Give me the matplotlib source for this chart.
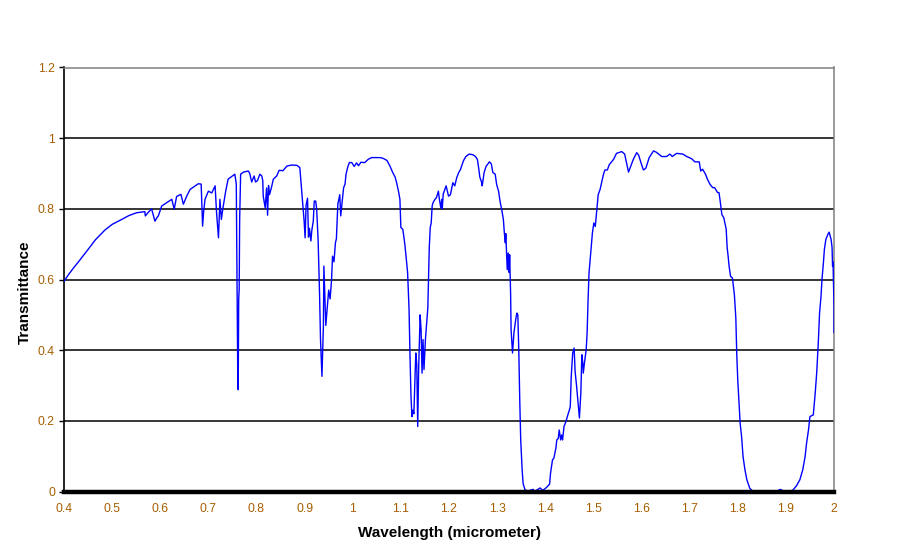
import matplotlib
matplotlib.use("Agg")
import matplotlib.pyplot as plt
from matplotlib.ticker import FixedLocator

wavelength = [
    0.400, 0.410, 0.420, 0.430, 0.450, 0.465, 0.485, 0.500, 0.520, 0.535,
    0.551, 0.568, 0.569, 0.575, 0.582,
    0.589, 0.593, 0.596, 0.603, 0.624, 0.629, 0.634, 0.643, 0.648, 0.655,
    0.662, 0.679, 0.685, 0.688, 0.690, 0.693, 0.700, 0.707, 0.714, 0.717,
    0.721, 0.724, 0.727, 0.730, 0.736, 0.741, 0.755, 0.758, 0.761, 0.762,
    0.763, 0.764, 0.765, 0.767, 0.773, 0.783, 0.786, 0.790, 0.795, 0.798,
    0.802, 0.807, 0.811, 0.813, 0.814, 0.818, 0.821, 0.823, 0.825, 0.827,
    0.831, 0.835, 0.842, 0.847, 0.855, 0.863, 0.873, 0.884, 0.890, 0.892,
    0.896, 0.899, 0.901, 0.903, 0.906, 0.908, 0.910, 0.913, 0.915, 0.918,
    0.920, 0.923, 0.925, 0.928, 0.931, 0.933, 0.936, 0.939, 0.940, 0.944,
    0.947, 0.950, 0.953, 0.956, 0.958, 0.961, 0.964, 0.966, 0.969, 0.973,
    0.975, 0.978, 0.981, 0.984, 0.986, 0.990, 0.993, 0.998, 1.003, 1.008,
    1.012, 1.017, 1.022, 1.025, 1.032, 1.039, 1.057, 1.063, 1.071, 1.077,
    1.083, 1.088, 1.091, 1.095, 1.098, 1.100, 1.104, 1.107, 1.109, 1.114,
    1.117, 1.119, 1.121, 1.123, 1.125, 1.127, 1.131, 1.133, 1.135, 1.137,
    1.140, 1.142, 1.144, 1.146, 1.148, 1.151, 1.154, 1.156, 1.158, 1.159,
    1.161, 1.163, 1.165, 1.167, 1.171, 1.174, 1.178, 1.180, 1.183, 1.185,
    1.186, 1.188, 1.194, 1.199, 1.203, 1.208, 1.212, 1.216, 1.220, 1.224,
    1.230, 1.235, 1.242, 1.250, 1.255, 1.259, 1.262, 1.264, 1.268, 1.269,
    1.273, 1.277, 1.284, 1.288, 1.291, 1.296, 1.299, 1.303, 1.306, 1.310,
    1.313, 1.315, 1.317, 1.318, 1.321, 1.323, 1.325, 1.326, 1.328, 1.329,
    1.332, 1.334, 1.335, 1.339, 1.341, 1.343, 1.345, 1.347, 1.349, 1.352,
    1.354, 1.358, 1.365, 1.375, 1.378, 1.389, 1.395, 1.403, 1.409, 1.411,
    1.415, 1.418, 1.422, 1.424, 1.427, 1.429, 1.432, 1.434, 1.436, 1.439,
    1.443, 1.447, 1.450, 1.452, 1.454, 1.457, 1.460, 1.462, 1.465, 1.467,
    1.469, 1.471, 1.474, 1.476, 1.478, 1.479, 1.482, 1.485, 1.487, 1.489,
    1.491, 1.494, 1.498, 1.501, 1.504, 1.508, 1.510, 1.514, 1.517, 1.521,
    1.524, 1.529, 1.533, 1.542, 1.548, 1.559, 1.565, 1.569, 1.573, 1.576,
    1.583, 1.590, 1.594, 1.600, 1.604, 1.609, 1.616, 1.625, 1.631, 1.642,
    1.652, 1.659, 1.664, 1.673, 1.686, 1.694, 1.704, 1.711, 1.720, 1.723,
    1.727, 1.733, 1.737, 1.742, 1.748, 1.752, 1.758, 1.761, 1.763, 1.767,
    1.771, 1.776, 1.778, 1.780, 1.782, 1.785, 1.789, 1.793, 1.796, 1.798,
    1.800, 1.803, 1.805, 1.808, 1.811, 1.815, 1.819, 1.825, 1.832, 1.881,
    1.888, 1.898, 1.914, 1.922, 1.929, 1.935, 1.940, 1.943, 1.947, 1.950,
    1.957, 1.961, 1.964, 1.967, 1.970, 1.973, 1.975, 1.978, 1.980, 1.983,
    1.987, 1.990, 1.994, 1.996, 1.997, 1.998, 2.000, 2.000,
]

transmittance = [
    0.595, 0.615, 0.633, 0.650, 0.685, 0.712, 0.740, 0.756, 0.770, 0.781,
    0.789, 0.792, 0.780, 0.790, 0.800,
    0.765, 0.775, 0.780, 0.808, 0.827, 0.799, 0.835, 0.841, 0.813, 0.836,
    0.855, 0.871, 0.870, 0.751, 0.790, 0.827, 0.850, 0.845, 0.865, 0.789,
    0.718, 0.827, 0.770, 0.800, 0.850, 0.884, 0.898, 0.870, 0.335, 0.288,
    0.543, 0.572, 0.770, 0.898, 0.904, 0.907, 0.900, 0.876, 0.893, 0.876,
    0.880, 0.898, 0.893, 0.880, 0.836, 0.803, 0.859, 0.782, 0.866, 0.840,
    0.860, 0.884, 0.893, 0.909, 0.908, 0.921, 0.924, 0.923, 0.917, 0.884,
    0.818, 0.765, 0.718, 0.810, 0.830, 0.720, 0.745, 0.709, 0.740, 0.765,
    0.822, 0.822, 0.800, 0.713, 0.562, 0.430, 0.326, 0.468, 0.638, 0.470,
    0.520, 0.570, 0.545, 0.600, 0.666, 0.650, 0.704, 0.715, 0.813, 0.840,
    0.780, 0.820, 0.860, 0.870, 0.898, 0.920, 0.931, 0.931, 0.920, 0.930,
    0.922, 0.932, 0.931, 0.931, 0.940, 0.945, 0.945, 0.943, 0.937, 0.922,
    0.903, 0.890, 0.875, 0.850, 0.827, 0.747, 0.742, 0.713, 0.690, 0.619,
    0.515, 0.382, 0.269, 0.212, 0.230, 0.220, 0.392, 0.360, 0.184, 0.350,
    0.500, 0.458, 0.335, 0.430, 0.345, 0.430, 0.482, 0.520, 0.638, 0.690,
    0.747, 0.760, 0.808, 0.818, 0.827, 0.832, 0.850, 0.827, 0.803, 0.827,
    0.800, 0.842, 0.865, 0.836, 0.840, 0.874, 0.865, 0.888, 0.902, 0.912,
    0.936, 0.948, 0.955, 0.953, 0.948, 0.940, 0.912, 0.890, 0.874, 0.865,
    0.903, 0.920, 0.933, 0.927, 0.903, 0.898, 0.869, 0.850, 0.822, 0.794,
    0.770, 0.732, 0.704, 0.730, 0.628, 0.675, 0.620, 0.670, 0.562, 0.458,
    0.392, 0.430, 0.450, 0.490, 0.505, 0.500, 0.401, 0.260, 0.146, 0.061,
    0.023, 0.004, 0.002, 0.006, 0.000, 0.010, 0.003, 0.012, 0.021, 0.052,
    0.089, 0.095, 0.122, 0.146, 0.150, 0.174, 0.146, 0.160, 0.146, 0.184,
    0.198, 0.217, 0.230, 0.240, 0.326, 0.392, 0.406, 0.340, 0.300, 0.269,
    0.240, 0.208, 0.280, 0.387, 0.364, 0.335, 0.370, 0.400, 0.449, 0.543,
    0.619, 0.666, 0.732, 0.760, 0.750, 0.808, 0.840, 0.855, 0.874, 0.898,
    0.910, 0.910, 0.925, 0.940, 0.957, 0.962, 0.955, 0.930, 0.904, 0.915,
    0.940, 0.959, 0.952, 0.926, 0.910, 0.915, 0.945, 0.964, 0.960, 0.948,
    0.948, 0.955, 0.948, 0.957, 0.955, 0.948, 0.942, 0.933, 0.933, 0.907,
    0.912, 0.898, 0.884, 0.870, 0.860, 0.860, 0.846, 0.846, 0.827, 0.784,
    0.775, 0.742, 0.690, 0.666, 0.638, 0.609, 0.604, 0.557, 0.491, 0.387,
    0.316, 0.240, 0.193, 0.155, 0.099, 0.061, 0.033, 0.009, 0.000, 0.000,
    0.006, 0.000, 0.003, 0.016, 0.033, 0.061, 0.099, 0.137, 0.174, 0.212,
    0.217, 0.279, 0.335, 0.411, 0.505, 0.552, 0.600, 0.647, 0.685, 0.713,
    0.727, 0.734, 0.713, 0.690, 0.638, 0.650, 0.524, 0.450,
]

x_ticks = [0.4, 0.5, 0.6, 0.7, 0.8, 0.9, 1.0, 1.1, 1.2, 1.3, 1.4, 1.5, 1.6, 1.7, 1.8, 1.9, 2.0]
x_tick_labels = ["0.4", "0.5", "0.6", "0.7", "0.8", "0.9", "1", "1.1", "1.2", "1.3",
                 "1.4", "1.5", "1.6", "1.7", "1.8", "1.9", "2"]
y_ticks = [0, 0.2, 0.4, 0.6, 0.8, 1.0, 1.2]
y_tick_labels = ["0", "0.2", "0.4", "0.6", "0.8", "1", "1.2"]

plt.rcParams['font.family'] = ['Liberation Sans', 'DejaVu Sans']

fig = plt.figure(figsize=(9.01, 5.55), dpi=100)
ax = fig.add_axes([64 / 901, 1 - 491.5 / 555, 770 / 901, 424 / 555])

ax.set_xlim(0.4, 2.0)
ax.set_ylim(0, 1.2)

# horizontal gridlines
for yv in y_ticks[1:-1]:
    ax.axhline(yv, color='black', lw=1.1, zorder=1)

ax.plot(wavelength, transmittance, color='#0000FF', lw=1.0, zorder=3)

tick_color = '#A65F00'
ax.xaxis.set_major_locator(FixedLocator(x_ticks))
ax.set_xticklabels(x_tick_labels)
ax.yaxis.set_major_locator(FixedLocator(y_ticks))
ax.set_yticklabels(y_tick_labels)
ax.tick_params(axis='x', length=0, pad=8.5, labelsize=8.7, labelcolor=tick_color)
ax.tick_params(axis='y', length=3.5, width=1, direction='out', pad=3,
               labelsize=8.7, labelcolor=tick_color, color='black')

ax.spines['left'].set_color('black')
ax.spines['left'].set_linewidth(1.2)
ax.spines['bottom'].set_color('black')
ax.spines['bottom'].set_linewidth(3.2)
ax.spines['bottom'].set_zorder(4)
ax.spines['top'].set_color('#808080')
ax.spines['top'].set_linewidth(1.1)
ax.spines['right'].set_color('#808080')
ax.spines['right'].set_linewidth(1.1)

fig.text(449 / 901, 1 - 533 / 555, "Wavelength (micrometer)", ha='center', va='center',
         fontsize=11, fontweight='bold', color='black')
fig.text(25 / 901, 1 - 292 / 555, "Transmittance", ha='center', va='center',
         rotation=90, fontsize=11, fontweight='bold', color='black')

fig.savefig("out.png", dpi=100, facecolor='white')
